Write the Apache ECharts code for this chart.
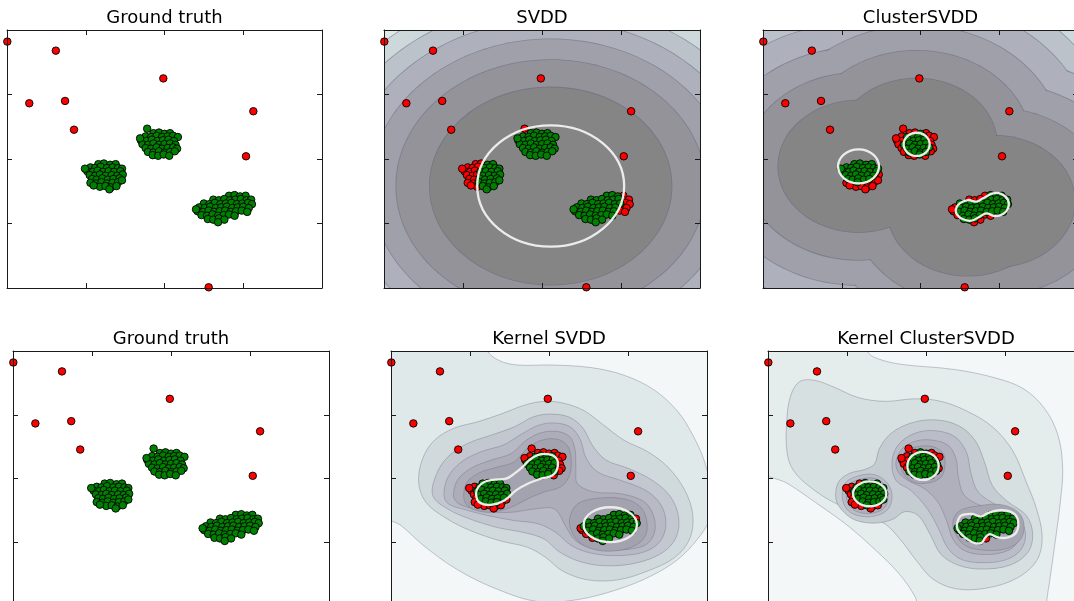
<!DOCTYPE html>
<html><head><meta charset="utf-8">
<script src="https://cdn.jsdelivr.net/npm/echarts@6/dist/echarts.min.js"></script>
<style>html,body{margin:0;padding:0;background:#fff;overflow:hidden}#c{width:1110px;height:640px}</style>
</head><body><div id="c"></div>
<script>
// ---------------- data ----------------
const titles = ['Ground truth', 'SVDD', 'ClusterSVDD', 'Ground truth', 'Kernel SVDD', 'Kernel ClusterSVDD'];
const axisMin = 0, axisMax = 4, axisStep = 1;

const outliers = [[0.004,0.18],[0.62,0.32],[1.985,0.75],[0.283,1.136],[0.737,1.10],[0.851,1.546],[3.128,1.26],[3.035,1.958],[2.561,3.989]];

const clusterA = [
 [1.16,2.08],[1.23,2.07],[1.31,2.09],[1.38,2.08],
 [1.06,2.13],[1.12,2.14],[1.19,2.12],[1.27,2.14],[1.34,2.13],[1.41,2.14],[1.46,2.15],
 [1.02,2.19],[1.09,2.20],[1.15,2.18],[1.22,2.20],[1.29,2.19],[1.36,2.20],[1.44,2.19],
 [1.05,2.25],[1.12,2.26],[1.18,2.24],[1.25,2.26],[1.33,2.25],[1.40,2.26],[1.47,2.24],
 [1.08,2.31],[1.14,2.32],[1.21,2.30],[1.28,2.32],[1.35,2.31],[1.43,2.30],
 [1.06,2.37],[1.13,2.38],[1.20,2.36],[1.27,2.38],[1.34,2.37],[1.41,2.36],[1.46,2.33],
 [1.18,2.43],[1.25,2.42],[1.32,2.44],[1.39,2.42],
 [0.99,2.15],[1.30,2.47],[1.10,2.41]];
const clusterB = [
 [1.86,1.60],[1.93,1.59],[2.00,1.61],[2.07,1.60],
 [1.76,1.65],[1.83,1.66],[1.90,1.64],[1.97,1.66],[2.04,1.65],[2.11,1.64],[2.17,1.66],
 [1.70,1.71],[1.77,1.72],[1.84,1.70],[1.91,1.72],[1.98,1.71],[2.05,1.70],[2.12,1.72],
 [1.72,1.77],[1.79,1.78],[1.86,1.76],[1.93,1.78],[2.00,1.77],[2.07,1.76],[2.14,1.78],
 [1.76,1.83],[1.83,1.84],[1.90,1.82],[1.97,1.84],[2.04,1.83],[2.11,1.82],[2.16,1.84],
 [1.79,1.89],[1.86,1.90],[1.93,1.88],[2.00,1.90],[2.07,1.89],[2.13,1.88],
 [1.85,1.94],[1.92,1.95],[1.99,1.93],[2.06,1.95],
 [1.78,1.53],[1.69,1.68]];
const clusterC = [
 [2.82,2.57],[2.89,2.56],[2.96,2.58],[3.03,2.57],
 [2.62,2.63],[2.69,2.64],[2.76,2.62],[2.83,2.64],[2.90,2.63],[2.97,2.62],[3.04,2.64],[3.10,2.63],
 [2.50,2.69],[2.57,2.70],[2.64,2.68],[2.71,2.70],[2.78,2.69],[2.85,2.68],[2.92,2.70],[2.99,2.69],[3.06,2.68],[3.11,2.70],
 [2.44,2.75],[2.51,2.76],[2.58,2.74],[2.65,2.76],[2.72,2.75],[2.79,2.74],[2.86,2.76],[2.93,2.75],[3.00,2.74],[3.07,2.76],
 [2.42,2.81],[2.49,2.82],[2.56,2.80],[2.63,2.82],[2.70,2.81],[2.77,2.80],[2.84,2.82],[2.91,2.81],[2.98,2.80],[3.05,2.82],
 [2.47,2.87],[2.54,2.88],[2.61,2.86],[2.68,2.88],[2.75,2.87],[2.82,2.86],[2.89,2.88],
 [2.55,2.93],[2.62,2.94],[2.69,2.92],[2.76,2.94],
 [2.68,2.98],[2.40,2.78]];

// SVDD: concentric contour radii around one centre, boundary ellipse [cx,cy,rx,ry]
const svddCentres = [[2.11,2.42]];
const svddLevelRadii = [1.53,1.955,2.275,2.57,2.83,3.07];
const svddBoundaryEllipses = [[2.11,2.42,0.93,0.94]];
const svddBoundaryPolys = [];

// ClusterSVDD: per-cluster centres, shared contour radii, boundaries
const csvddCentres = [[1.213,2.114],[1.951,1.773],[2.60,2.79],[2.94,2.66]];
const csvddLevelRadii = [1.02,1.45,1.84,2.22,2.52,2.78];
const csvddBoundaryEllipses = [[1.213,2.114,0.26,0.264],[1.951,1.773,0.165,0.18]];
const csvddDumbbell = [[2.447,2.791],[2.497,2.687],[2.603,2.636],[2.709,2.661],[2.794,2.610],[2.921,2.532],[3.026,2.543],[3.111,2.636],[3.111,2.765],[3.048,2.853],[2.942,2.884],[2.836,2.842],[2.751,2.894],[2.646,2.956],[2.540,2.935],[2.468,2.868]];
const csvddBoundaryPolys = [csvddDumbbell];

// Kernel SVDD contour lines (outer to inner)
const ksvddLine1 = [[-0.13,-0.16],[1.22,-0.16],[1.22,0],[1.37,0.15],[1.60,0.22],[2.03,0.22],[2.53,0.26],[2.95,0.38],[3.33,0.61],[3.63,0.95],[3.82,1.32],[3.97,1.74],[4.05,2.21],[4.03,2.64],[3.88,2.95],[3.63,3.27],[3.29,3.53],[2.87,3.74],[2.36,3.90],[1.86,3.93],[1.35,3.74],[0.84,3.43],[0.42,3.06],[0.13,2.74],[-0.13,2.53]];
const ksvddLine2 = [[0.35,2.06],[0.40,1.69],[0.55,1.40],[0.80,1.21],[1.10,1.11],[1.39,0.99],[1.69,0.85],[1.94,0.79],[2.19,0.82],[2.45,0.94],[2.70,1.17],[2.95,1.40],[3.25,1.58],[3.52,1.84],[3.73,2.21],[3.82,2.58],[3.78,2.95],[3.59,3.24],[3.25,3.45],[2.87,3.59],[2.49,3.59],[2.17,3.45],[1.96,3.24],[1.73,3.08],[1.39,2.98],[1.01,2.82],[0.68,2.61],[0.44,2.37]];
const ksvddLine3 = [[0.53,2.27],[0.57,1.95],[0.72,1.66],[0.97,1.45],[1.27,1.32],[1.56,1.19],[1.81,1.03],[2.03,0.99],[2.26,1.04],[2.43,1.21],[2.55,1.48],[2.72,1.71],[3.00,1.84],[3.31,2.03],[3.54,2.29],[3.64,2.61],[3.61,2.92],[3.44,3.16],[3.12,3.32],[2.74,3.37],[2.41,3.31],[2.13,3.15],[1.94,2.95],[1.69,2.85],[1.35,2.77],[1.01,2.64],[0.72,2.48]];
const ksvddLine4 = [[0.67,2.27],[0.72,1.98],[0.89,1.74],[1.14,1.58],[1.43,1.47],[1.67,1.29],[1.88,1.16],[2.09,1.13],[2.28,1.20],[2.40,1.40],[2.47,1.68],[2.62,1.90],[2.91,2.03],[3.23,2.19],[3.42,2.42],[3.48,2.71],[3.41,2.98],[3.21,3.15],[2.87,3.21],[2.53,3.17],[2.28,3.05],[2.09,2.85],[1.86,2.71],[1.56,2.66],[1.22,2.58],[0.91,2.48],[0.73,2.40]];
const ksvddLine5 = [[0.79,2.27],[0.84,2.03],[1.01,1.84],[1.27,1.71],[1.52,1.61],[1.69,1.42],[1.88,1.29],[2.09,1.26],[2.26,1.34],[2.33,1.55],[2.34,1.84],[2.36,2.08],[2.57,2.21],[2.91,2.24],[3.21,2.37],[3.33,2.61],[3.33,2.87],[3.21,3.05],[2.91,3.12],[2.57,3.10],[2.34,2.98],[2.22,2.77],[2.07,2.48],[1.81,2.48],[1.52,2.53],[1.22,2.52],[0.97,2.45],[0.84,2.38]];
const ksvddLine6ab = [[0.92,2.27],[0.96,2.06],[1.12,1.91],[1.35,1.82],[1.56,1.74],[1.71,1.55],[1.88,1.41],[2.09,1.38],[2.23,1.48],[2.28,1.69],[2.26,1.95],[2.15,2.13],[1.94,2.21],[1.73,2.32],[1.52,2.45],[1.27,2.53],[1.05,2.49],[0.95,2.40]];
const ksvddLine6c = [[2.26,2.64],[2.36,2.40],[2.62,2.31],[2.95,2.32],[3.16,2.45],[3.24,2.69],[3.21,2.92],[3.04,3.08],[2.74,3.14],[2.47,3.07],[2.31,2.89]];
const ksvddLevels = [[ksvddLine1],[ksvddLine2],[ksvddLine3],[ksvddLine4],[ksvddLine5],[ksvddLine6ab,ksvddLine6c]];
const ksvddDumbbell = [[1.076,2.240],[1.118,2.372],[1.266,2.414],[1.435,2.345],[1.582,2.187],[1.730,2.082],[1.899,2.003],[2.046,1.950],[2.110,1.818],[2.089,1.676],[1.983,1.618],[1.857,1.634],[1.751,1.713],[1.667,1.818],[1.561,1.924],[1.456,2.003],[1.308,2.018],[1.181,2.055],[1.105,2.134]];
const ksvddBoundaryEllipses = [[2.776,2.725,0.3376,0.274]];
const ksvddBoundaryPolys = [ksvddDumbbell];

// Kernel ClusterSVDD contour lines (outer to inner)
const kcLine1 = [[-0.13,-0.16],[1.27,-0.16],[1.27,0.03],[1.41,0.13],[1.69,0.21],[2.36,0.29],[2.87,0.42],[3.23,0.59],[3.50,0.90],[3.67,1.32],[3.73,1.84],[3.70,2.37],[3.64,2.95],[3.58,3.48],[3.52,4.01],[3.52,4.22],[1.98,4.22],[1.86,3.85],[1.65,3.48],[1.35,3.11],[1.01,2.74],[0.63,2.40],[0.25,2.08],[-0.13,1.82]];
const kcLine2 = [[0.24,1.58],[0.24,1.05],[0.29,0.69],[0.40,0.48],[0.59,0.46],[0.84,0.57],[1.14,0.73],[1.48,0.79],[1.86,0.75],[2.19,0.79],[2.53,0.95],[2.85,1.20],[3.10,1.57],[3.27,2.06],[3.40,2.48],[3.47,2.92],[3.40,3.29],[3.14,3.57],[2.76,3.72],[2.38,3.73],[2.09,3.58],[1.88,3.29],[1.69,2.98],[1.48,2.71],[1.18,2.54],[0.84,2.38],[0.53,2.13],[0.32,1.87]];
const kcLine3 = [[0.86,2.32],[0.89,2.06],[1.03,1.92],[1.22,1.86],[1.35,1.77],[1.41,1.53],[1.56,1.29],[1.81,1.13],[2.11,1.08],[2.41,1.17],[2.62,1.40],[2.74,1.74],[2.84,2.11],[3.02,2.35],[3.27,2.58],[3.35,2.87],[3.29,3.16],[3.06,3.36],[2.70,3.42],[2.41,3.36],[2.19,3.19],[2.05,2.87],[1.90,2.58],[1.73,2.52],[1.58,2.64],[1.35,2.70],[1.10,2.65],[0.94,2.50]];
const kcLine4a = [[0.94,2.27],[0.98,2.07],[1.14,1.96],[1.35,1.94],[1.51,2.07],[1.57,2.27],[1.52,2.48],[1.35,2.59],[1.13,2.58],[0.99,2.47]];
const kcLine4bc = [[1.57,1.74],[1.65,1.47],[1.86,1.29],[2.11,1.25],[2.36,1.34],[2.51,1.58],[2.57,1.92],[2.66,2.21],[2.91,2.43],[3.17,2.61],[3.26,2.87],[3.20,3.12],[3.00,3.28],[2.68,3.32],[2.43,3.26],[2.27,3.08],[2.16,2.79],[2.02,2.48],[1.81,2.19],[1.62,2.03]];
const kcLine5a = [[0.99,2.27],[1.03,2.10],[1.17,2.01],[1.36,2.00],[1.48,2.11],[1.52,2.28],[1.48,2.45],[1.34,2.54],[1.15,2.53],[1.03,2.43]];
const kcLine5bc = [[1.62,1.74],[1.70,1.53],[1.88,1.41],[2.09,1.40],[2.28,1.48],[2.38,1.69],[2.41,1.98],[2.49,2.27],[2.74,2.45],[3.06,2.58],[3.17,2.79],[3.14,3.03],[2.97,3.16],[2.68,3.19],[2.47,3.12],[2.34,2.95],[2.26,2.66],[2.15,2.37],[1.98,2.16],[1.77,2.03],[1.65,1.90]];
const kcLine6b = [[1.68,1.74],[1.74,1.57],[1.90,1.50],[2.09,1.50],[2.22,1.61],[2.24,1.79],[2.19,1.98],[2.03,2.07],[1.84,2.06],[1.71,1.92]];
const kcLine6c = [[2.34,2.74],[2.41,2.52],[2.66,2.43],[2.95,2.41],[3.16,2.52],[3.24,2.71],[3.20,2.95],[3.02,3.10],[2.70,3.12],[2.47,3.03]];
const kcsvddLevels = [[kcLine1],[kcLine2],[kcLine3],[kcLine4a,kcLine4bc],[kcLine5a,kcLine5bc],[kcLine6b,kcLine6c]];
const kcDumbbell = [[2.397,2.688],[2.447,2.582],[2.574,2.556],[2.700,2.593],[2.806,2.530],[2.954,2.498],[3.101,2.540],[3.165,2.661],[3.143,2.846],[3.038,2.925],[2.911,2.925],[2.806,2.872],[2.751,2.925],[2.700,3.014],[2.595,3.004],[2.468,2.899],[2.397,2.793]];
const kcsvddBoundaryEllipses = [[1.287,2.24,0.211,0.195],[1.962,1.802,0.198,0.221]];
const kcsvddBoundaryPolys = [kcDumbbell];

// ---------------- style / layout ----------------
const ringColors = ['#858585','#939399','#a0a0ab','#aeb0bb','#bcc2c9','#ccd8da','#dee9e9'];
const kernelColors = ['#f3f7f7','#e0e9e9','#d0d9dc','#c3c8d0','#b7b9c4','#adadb9','#a3a3af'];
const kernelCColors = ['#f3f7f7','#e4ecec','#d6e0e1','#c6cdd2','#babdc7','#b0b0bc','#a6a6b2'];
const panels = [
  {left:7, top:30, width:315, height:258},
  {left:384, top:30, width:316, height:258},
  {left:763, top:30, width:315, height:258},
  {left:13, top:351, width:316, height:255},
  {left:391, top:351, width:316, height:255},
  {left:768, top:351, width:316, height:255}
];
const titleBaseTop = [9, 9, 9, 330, 330, 330];

function inPoly(p, poly) {
  let inside = false;
  for (let i = 0, j = poly.length - 1; i < poly.length; j = i++) {
    const xi = poly[i][0], yi = poly[i][1], xj = poly[j][0], yj = poly[j][1];
    if (((yi > p[1]) !== (yj > p[1])) && (p[0] < (xj - xi) * (p[1] - yi) / (yj - yi) + xi)) inside = !inside;
  }
  return inside;
}
function inBoundary(p, ells, polys) {
  return ells.some(e => Math.pow((p[0]-e[0])/e[2],2) + Math.pow((p[1]-e[1])/e[3],2) <= 1) || polys.some(pl => inPoly(p, pl));
}

function ringRenderer(centres, radii, colors) {
  return function (params, api) {
    const cs = params.coordSys;
    const ch = [{type:'rect', shape:{x:cs.x, y:cs.y, width:cs.width, height:cs.height}, style:{fill:colors[radii.length]}}];
    for (let j = radii.length - 1; j >= 0; j--) {
      const s = api.size([radii[j], radii[j]]);
      const rx = Math.abs(s[0]), ry = Math.abs(s[1]);
      centres.forEach(c => { const p = api.coord(c); ch.push({type:'ellipse', shape:{cx:p[0], cy:p[1], rx:rx+0.8, ry:ry+0.8}, style:{fill:'rgba(95,95,118,0.55)'}}); });
      centres.forEach(c => { const p = api.coord(c); ch.push({type:'ellipse', shape:{cx:p[0], cy:p[1], rx:rx, ry:ry}, style:{fill:colors[j]}}); });
    }
    return {type:'group', children:ch};
  };
}
function polyRenderer(levels, colors) {
  return function (params, api) {
    const cs = params.coordSys;
    const ch = [{type:'rect', shape:{x:cs.x, y:cs.y, width:cs.width, height:cs.height}, style:{fill:colors[0]}}];
    levels.forEach((polys, j) => {
      polys.forEach(pl => {
        ch.push({type:'polygon', shape:{points:pl.map(q => api.coord(q)), smooth:0.35}, style:{fill:colors[j+1], stroke:'rgba(100,100,125,0.45)', lineWidth:0.8}});
      });
    });
    return {type:'group', children:ch};
  };
}
function boundaryRenderer(ells, polys) {
  return function (params, api) {
    const ch = [];
    ells.forEach(e => {
      const p = api.coord([e[0], e[1]]); const s = api.size([e[2], e[3]]);
      ch.push({type:'ellipse', shape:{cx:p[0], cy:p[1], rx:Math.abs(s[0]), ry:Math.abs(s[1])}, style:{fill:'none', stroke:'#ececec', lineWidth:2.3}});
    });
    polys.forEach(pl => ch.push({type:'polygon', shape:{points:pl.map(q => api.coord(q)), smooth:0.4}, style:{fill:'none', stroke:'#ececec', lineWidth:2.3}}));
    return {type:'group', children:ch};
  };
}

const allCluster = clusterA.concat(clusterB, clusterC);
const allPoints = outliers.concat(allCluster);

const methods = {
  1: {bg: ringRenderer(svddCentres, svddLevelRadii, ringColors), ells: svddBoundaryEllipses, polys: svddBoundaryPolys},
  2: {bg: ringRenderer(csvddCentres, csvddLevelRadii, ringColors), ells: csvddBoundaryEllipses, polys: csvddBoundaryPolys},
  4: {bg: polyRenderer(ksvddLevels, kernelColors), ells: ksvddBoundaryEllipses, polys: ksvddBoundaryPolys},
  5: {bg: polyRenderer(kcsvddLevels, kernelCColors), ells: kcsvddBoundaryEllipses, polys: kcsvddBoundaryPolys}
};

const xAxes = [], yAxes = [], series = [];
const axisCommon = {type:'value', min:axisMin, max:axisMax, interval:axisStep, z:10,
  axisLabel:{show:false}, splitLine:{show:false},
  axisLine:{show:true, onZero:false, lineStyle:{color:'#1a1a1a', width:1}},
  axisTick:{show:true, inside:true, length:5, lineStyle:{color:'#1a1a1a', width:1}}};
panels.forEach((p, i) => {
  xAxes.push(Object.assign({gridIndex:i, position:'bottom'}, axisCommon));
  xAxes.push(Object.assign({gridIndex:i, position:'top'}, axisCommon));
  yAxes.push(Object.assign({gridIndex:i, position:'left', inverse:true}, axisCommon));
  yAxes.push(Object.assign({gridIndex:i, position:'right', inverse:true}, axisCommon));
  const ax = {xAxisIndex:2*i, yAxisIndex:2*i};
  let red, green;
  const m = methods[i];
  if (m) {
    series.push(Object.assign({type:'custom', clip:true, z:1, silent:true, data:[[2,2]], renderItem:m.bg}, ax));
    red = allPoints.filter(q => !inBoundary(q, m.ells, m.polys));
    green = allPoints.filter(q => inBoundary(q, m.ells, m.polys));
  } else {
    red = outliers; green = allCluster;
  }
  const sym = {type:'scatter', symbol:'circle', symbolSize:7.5, z:2, silent:true};
  series.push(Object.assign({}, sym, ax, {data:red, itemStyle:{color:'#ff0000', borderColor:'#000', borderWidth:0.9, opacity:1}}));
  series.push(Object.assign({}, sym, ax, {data:green, z:3, itemStyle:{color:'#008000', borderColor:'#000', borderWidth:0.9, opacity:1}}));
  if (m) series.push(Object.assign({type:'custom', clip:true, z:4, silent:true, data:[[2,2]], renderItem:boundaryRenderer(m.ells, m.polys)}, ax));
});

const chart = echarts.init(document.getElementById('c'), null, {renderer:'canvas'});
chart.setOption({
  animation:false,
  backgroundColor:'#ffffff',
  title: titles.map((t, i) => ({text:t, left:panels[i].left + panels[i].width/2, top:titleBaseTop[i], textAlign:'center', padding:0,
    textStyle:{fontFamily:'DejaVu Sans', fontSize:18, fontWeight:'normal', color:'#000'}})),
  grid: panels.map(p => ({left:p.left, top:p.top, width:p.width, height:p.height, containLabel:false})),
  xAxis: xAxes, yAxis: yAxes, series: series
});
</script></body></html>
